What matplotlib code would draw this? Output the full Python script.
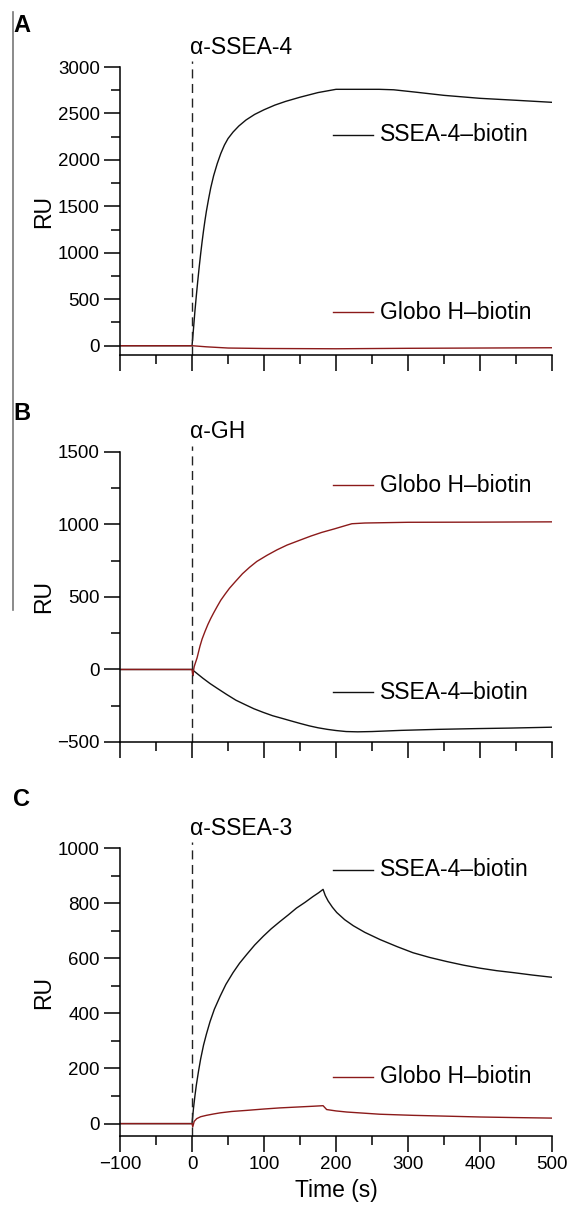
import matplotlib
matplotlib.use('Agg')
import matplotlib.pyplot as plt
from matplotlib.ticker import MultipleLocator
from matplotlib.lines import Line2D

plt.rcParams['font.family'] = ['Liberation Sans', 'DejaVu Sans']

black = '#111111'
red = '#8b1a1a'

# Panel A: alpha-SSEA-4 injection
a_t_ssea4 = [-100, -50, 0, 2, 4, 6, 8, 10, 12, 14, 16, 18, 20, 23, 26, 30, 35, 40, 45,
             50, 57, 65, 75, 87, 100, 115, 130, 150, 175, 200, 230, 260, 280, 310,
             350, 400, 450, 500]
a_v_ssea4 = [0, 0, 0, 180, 370, 540, 700, 850, 990, 1120, 1240, 1350, 1450, 1580, 1700,
             1830, 1960, 2070, 2160, 2230, 2300, 2365, 2430, 2490, 2540, 2590, 2630,
             2675, 2725, 2760, 2760, 2760, 2755, 2730, 2695, 2663, 2642, 2620]
a_t_globo = [-100, -50, 0, 20, 50, 100, 200, 300, 400, 500]
a_v_globo = [0, 0, 0, -12, -25, -30, -33, -28, -25, -22]

# Panel B: alpha-GH injection
b_t_globo = [-100, -50, 0, 1, 2, 3, 5, 7, 9, 11, 14, 18, 22, 26, 30, 35, 40, 46, 52,
             60, 70, 80, 90, 104, 118, 132, 150, 165, 180, 198, 215, 222, 240, 300,
             400, 500]
b_v_globo = [0, 0, 0, -45, -10, 20, 50, 80, 120, 160, 210, 262, 310, 352, 390, 435,
             478, 520, 560, 605, 660, 705, 745, 787, 825, 858, 892, 920, 945, 970,
             995, 1005, 1010, 1015, 1016, 1018]
b_t_ssea4 = [-100, -50, 0, 5, 10, 15, 25, 35, 48, 61, 74, 86, 99, 112, 125, 137, 150,
             163, 175, 188, 200, 214, 230, 250, 290, 341, 392, 443, 500]
b_v_ssea4 = [0, 0, 0, -20, -40, -60, -97, -130, -172, -212, -243, -271, -296, -319,
             -337, -354, -372, -389, -402, -413, -421, -428, -430, -428, -420, -413,
             -408, -404, -398]

# Panel C: alpha-SSEA-3 injection
c_t_ssea4 = [-100, -50, 0, 2, 4, 6, 9, 12, 16, 20, 25, 31, 39, 47, 57, 66, 76, 87, 99,
             110, 122, 134, 145, 157, 168, 176, 182, 185, 189, 195, 201, 212, 224,
             240, 261, 285, 307, 330, 354, 377, 400, 423, 446, 473, 500]
c_v_ssea4 = [0, 0, 0, 55, 100, 140, 190, 235, 285, 325, 370, 415, 462, 505, 548, 582,
             614, 648, 680, 707, 733, 758, 782, 803, 824, 838, 850, 828, 808, 785,
             766, 740, 718, 694, 668, 642, 620, 603, 588, 575, 564, 555, 548, 539, 531]
c_t_globo = [-100, -50, 0, 1, 3, 6.5, 12, 20, 30, 39, 55, 76, 100, 122, 145, 168, 182,
             187, 200, 215, 238, 261, 307, 354, 400, 446, 500]
c_v_globo = [0, 0, 0, -12, 8, 18, 25, 30, 35, 39, 44, 48, 53, 57, 60, 63, 65, 51, 46,
             42, 38, 34, 30, 27, 24, 22, 20]

panels = [
    dict(letter='A', inj='α-SSEA-4', ylim=(-100, 3000), major=500, minor=250,
         rect=[0.2102, 0.7071, 0.7566, 0.2376],
         series=[(a_t_ssea4, a_v_ssea4, black, 'SSEA-4–biotin', 0.764),
                 (a_t_globo, a_v_globo, red, 'Globo H–biotin', 0.149)]),
    dict(letter='B', inj='α-GH', ylim=(-500, 1500), major=500, minor=250,
         rect=[0.2102, 0.3878, 0.7566, 0.2393],
         series=[(b_t_ssea4, b_v_ssea4, black, 'SSEA-4–biotin', 0.172),
                 (b_t_globo, b_v_globo, red, 'Globo H–biotin', 0.886)]),
    dict(letter='C', inj='α-SSEA-3', ylim=(-45, 1000), major=200, minor=100,
         rect=[0.2102, 0.0627, 0.7566, 0.2376],
         series=[(c_t_ssea4, c_v_ssea4, black, 'SSEA-4–biotin', 0.924),
                 (c_t_globo, c_v_globo, red, 'Globo H–biotin', 0.205)]),
]
letter_y = [0.979, 0.659, 0.340]

fig = plt.figure(figsize=(5.71, 12.12), dpi=100)

for i, p in enumerate(panels):
    ax = fig.add_axes(p['rect'])
    for t, v, c, lab, ly in p['series']:
        ax.plot(t, v, color=c, lw=1.0)
        # inline key
        ax.plot([0.493, 0.586], [ly, ly], color=c, lw=1.0, transform=ax.transAxes,
                clip_on=False)
        ax.text(0.602, ly, lab, transform=ax.transAxes, fontsize=16.5,
                va='center', ha='left')
    ax.axvline(0, ymin=0, ymax=1.02, color='#222222', lw=1.0,
               ls=(0, (6.5, 4)), clip_on=False)
    ax.text(-3, 1.0 + 20 / 288, p['inj'], transform=ax.get_xaxis_transform(),
            fontsize=16.5, ha='left', va='center')

    ax.set_xlim(-100, 500)
    ax.set_ylim(*p['ylim'])
    for s in ['top', 'right']:
        ax.spines[s].set_visible(False)
    for s in ['left', 'bottom']:
        ax.spines[s].set_linewidth(1.1)
    ax.xaxis.set_major_locator(MultipleLocator(100))
    ax.xaxis.set_minor_locator(MultipleLocator(50))
    ax.yaxis.set_major_locator(MultipleLocator(p['major']))
    ax.yaxis.set_minor_locator(MultipleLocator(p['minor']))
    ax.tick_params(which='major', direction='out', length=11.5, width=1.1,
                   labelsize=13.5, pad=3)
    ax.tick_params(which='minor', direction='out', length=6.5, width=1.1)
    ax.set_ylabel('RU', fontsize=16.5)
    ax.yaxis.set_label_coords(-0.15, 0.5)
    if i < 2:
        ax.tick_params(axis='x', labelbottom=False)
    else:
        ax.set_xlabel('Time (s)', fontsize=16.5, labelpad=4)

    fig.text(0.023, letter_y[i], p['letter'], fontsize=17, fontweight='bold',
             ha='left', va='center')

# stray vertical rule at the left edge
fig.add_artist(Line2D([0.022, 0.022], [0.990, 0.497], color='#777777', lw=1.2,
                      transform=fig.transFigure))

fig.savefig('out.png', dpi=100)
